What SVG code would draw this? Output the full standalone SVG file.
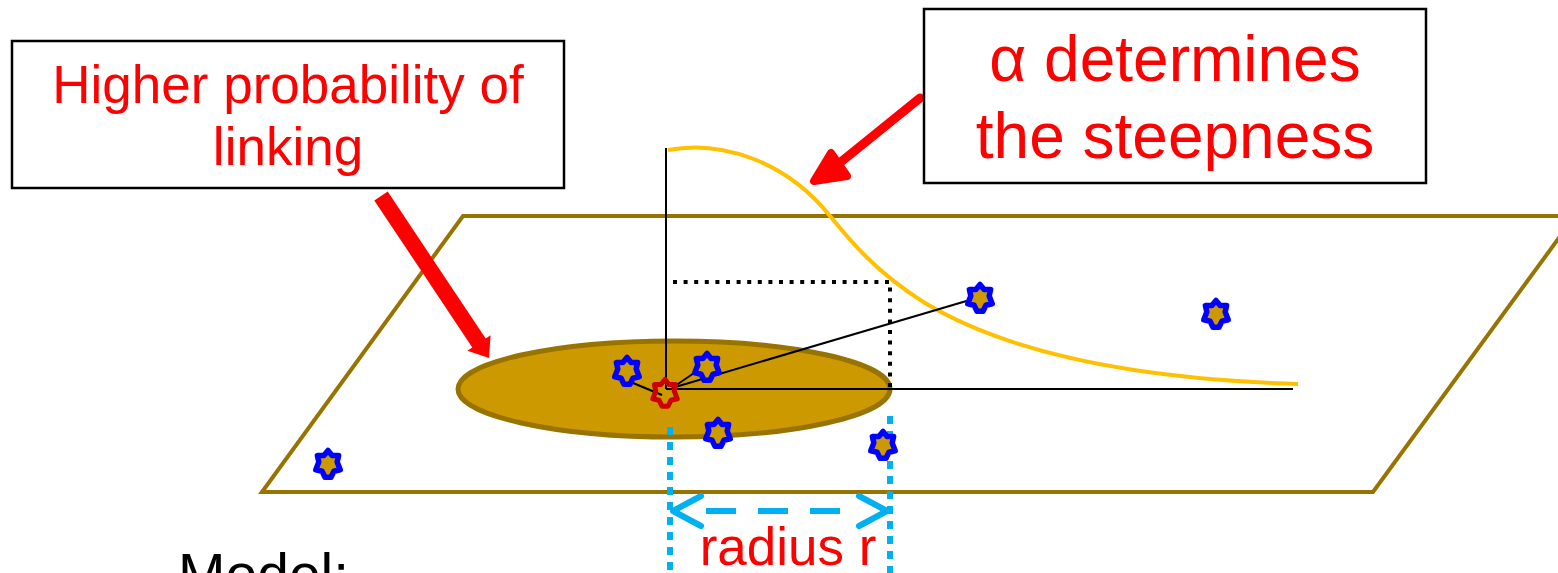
<svg xmlns="http://www.w3.org/2000/svg" width="1558" height="573" viewBox="0 0 1558 573">
<style>
.txt{font-family:"Liberation Sans",Arial,sans-serif;fill:#FF0000;text-anchor:middle}
.box{fill:#FFFFFF;stroke:#000000;stroke-width:2.5}
.star{fill:#CC9900;stroke:#0000FF;stroke-width:5.5;stroke-linejoin:round}
.thin{stroke:#000000;stroke-width:2;fill:none}
</style>
<defs>
<path id="st7" d="M0,-13.5 L4.1,-8.5 L10.6,-8.4 L9.2,-2.1 L12.2,5.8 L5.9,7.3 L3,13.2 L-3,13.2 L-5.9,7.3 L-12.2,5.8 L-9.2,-2.1 L-10.6,-8.4 L-4.1,-8.5 Z"/>
</defs>
<rect width="1558" height="573" fill="#FFFFFF"/>
<g id="plane">
<polygon points="463,216 1575,216 1373,492 262,492" fill="none" stroke="#997300" stroke-width="4"/>
</g>
<g id="disk">
<ellipse cx="674" cy="389" rx="216" ry="48" fill="#CC9900" stroke="#997300" stroke-width="5"/>
</g>
<g id="connectors">
<path d="M668,150 C720,140 785,160 830,216 C848,238 875,272 925,303 C990,342 1100,378 1298,384" fill="none" stroke="#FFC000" stroke-width="4"/>
<line class="thin" x1="666" y1="148" x2="666" y2="389"/>
<line class="thin" x1="666" y1="389" x2="1293" y2="389"/>
<line class="thin" x1="672" y1="388" x2="980" y2="297"/>
<line class="thin" x1="672" y1="388" x2="697" y2="371"/>
<line class="thin" x1="633" y1="383" x2="662" y2="395"/>
<path d="M673,282 L890,282 L890,389" fill="none" stroke="#000000" stroke-width="4" stroke-dasharray="4 6.6"/>
<line x1="670" y1="427" x2="670" y2="573" stroke="#00B0F0" stroke-width="6" stroke-dasharray="8 7"/>
<line x1="890" y1="416" x2="890" y2="573" stroke="#00B0F0" stroke-width="6" stroke-dasharray="8 7"/>
<line x1="698" y1="511" x2="862" y2="511" stroke="#00B0F0" stroke-width="6" stroke-dasharray="30 22" stroke-dashoffset="-8"/>
<path d="M701,496 L673,511 L701,526 M859,496 L887,511 L859,526" fill="none" stroke="#00B0F0" stroke-width="6" stroke-linecap="round" stroke-linejoin="round"/>
<polygon points="387.7,191.6 485.7,338.6 490.6,335.2 489,358 467.4,350.8 472.3,347.4 374.3,200.4" fill="#FF0000"/>
<line x1="920" y1="98" x2="826" y2="174" stroke="#FF0000" stroke-width="9" stroke-linecap="round"/>
<path d="M831,153 L814,181 L847,176 Z" fill="#FF0000" stroke="#FF0000" stroke-width="8" stroke-linejoin="round"/>
</g>
<g id="stars">
<use href="#st7" class="star" x="328" y="464"/>
<use href="#st7" class="star" x="627" y="371"/>
<use href="#st7" class="star" x="707" y="367"/>
<use href="#st7" class="star" x="718" y="433"/>
<use href="#st7" class="star" x="883" y="445"/>
<use href="#st7" class="star" x="980" y="298"/>
<use href="#st7" class="star" x="1216" y="314"/>
<use href="#st7" x="665" y="393" fill="none" stroke="#CC0000" stroke-width="5" stroke-linejoin="round"/>
</g>
<g id="box-left">
<rect class="box" x="12" y="41" width="552" height="147"/>
<text class="txt" x="288" y="103" font-size="53">Higher probability of</text>
<text class="txt" x="288" y="165" font-size="53">linking</text>
</g>
<g id="box-right">
<rect class="box" x="924" y="9" width="502" height="174"/>
<text class="txt" x="1175" y="81" font-size="64">α determines</text>
<text class="txt" x="1175" y="158" font-size="64">the steepness</text>
</g>
<g id="radius-label">
<text class="txt" x="788" y="565" font-size="53">radius r</text>
</g>
<g id="model-label">
<text x="178" y="594" font-size="57" font-family="Liberation Sans,Arial,sans-serif" fill="#000000">Model:</text>
</g>
</svg>
